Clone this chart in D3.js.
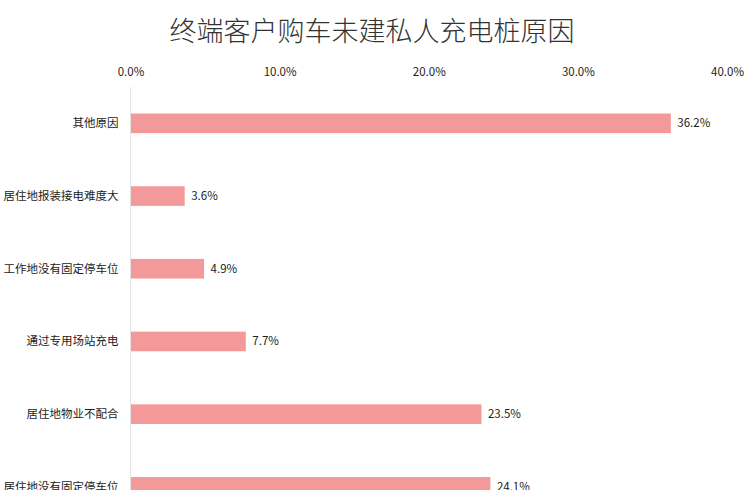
<!DOCTYPE html>
<meta charset="utf-8">
<style>
body { margin: 0; background: #fff; }
text { font-family: "Noto Sans CJK SC", "Noto Sans", sans-serif; fill: #222; }
.title { font-size: 27px; fill: #333; font-weight: 300; }
.tick text, .cat, .val { font-size: 11.5px; }
</style>
<body>
<div id="plotHere"></div>
<script src="https://cdn.jsdelivr.net/npm/d3@7"></script>
<script>
// data
const title = "终端客户购车未建私人充电桩原因";
const categories = ["其他原因", "居住地报装接电难度大", "工作地没有固定停车位",
                    "通过专用场站充电", "居住地物业不配合", "居住地没有固定停车位"];
const values = [36.2, 3.6, 4.9, 7.7, 23.5, 24.1];
const xTicks = [0, 10, 20, 30, 40];

const width = 744, height = 490;
const margin = {top: 87, left: 130.5, right: 17};

const svg = d3.select("#plotHere").append("svg")
    .attr("width", width)
    .attr("height", height);

// scales
const x = d3.scaleLinear().domain([0, 40]).range([margin.left, width - margin.right]);
const y = d3.scaleBand().domain(categories)
    .range([margin.top, margin.top + categories.length * 72.7])
    .paddingInner(0.73).paddingOuter(0.365);

// title
svg.append("text")
    .attr("class", "title")
    .attr("x", width / 2)
    .attr("y", 41)
    .attr("text-anchor", "middle")
    .text(title);

// top axis, labels only
const xAxis = svg.append("g")
    .attr("transform", "translate(0,76)")
    .call(d3.axisTop(x).tickValues(xTicks).tickSize(0).tickPadding(0)
        .tickFormat(d => d.toFixed(1) + "%"));
xAxis.select(".domain").remove();

// vertical baseline
svg.append("line")
    .attr("x1", x(0)).attr("x2", x(0))
    .attr("y1", margin.top).attr("y2", height)
    .attr("stroke", "#e3e3e3")
    .attr("stroke-width", 1);

// bars
svg.selectAll(".bar")
    .data(values)
    .enter().append("rect")
    .attr("class", "bar")
    .attr("x", x(0) + 0.5)
    .attr("y", (d, i) => y(categories[i]))
    .attr("width", d => x(d) - x(0))
    .attr("height", y.bandwidth())
    .attr("fill", "#f4999a");

// category labels
svg.selectAll(".cat")
    .data(categories)
    .enter().append("text")
    .attr("class", "cat")
    .attr("x", x(0) - 12)
    .attr("y", d => y(d) + y.bandwidth() / 2)
    .attr("dy", "0.35em")
    .attr("text-anchor", "end")
    .text(d => d);

// value labels
svg.selectAll(".val")
    .data(values)
    .enter().append("text")
    .attr("class", "val")
    .attr("x", d => x(d) + 7)
    .attr("y", (d, i) => y(categories[i]) + y.bandwidth() / 2)
    .attr("dy", "0.35em")
    .text(d => d.toFixed(1) + "%");
</script>
</body>
